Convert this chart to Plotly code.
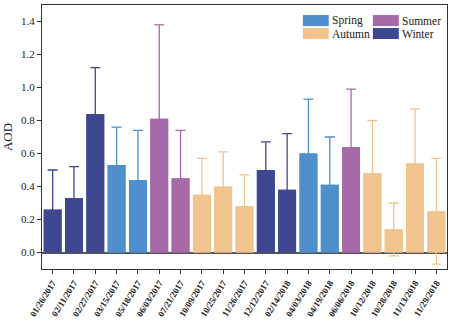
import plotly.graph_objects as go

dates = ["01/26/2017", "02/11/2017", "02/27/2017", "03/15/2017", "05/18/2017",
         "06/03/2017", "07/21/2017", "10/09/2017", "10/25/2017", "11/26/2017",
         "12/12/2017", "02/14/2018", "04/03/2018", "04/19/2018", "06/06/2018",
         "10/12/2018", "10/28/2018", "11/13/2018", "11/29/2018"]
seasons = ["Winter", "Winter", "Winter", "Spring", "Spring",
           "Summer", "Summer", "Autumn", "Autumn", "Autumn",
           "Winter", "Winter", "Spring", "Spring", "Summer",
           "Autumn", "Autumn", "Autumn", "Autumn"]
aod = [0.26, 0.33, 0.84, 0.53, 0.44, 0.81, 0.45, 0.35, 0.40, 0.28,
       0.50, 0.38, 0.60, 0.41, 0.64, 0.48, 0.14, 0.54, 0.25]
aod_sd = [0.24, 0.19, 0.28, 0.23, 0.30, 0.57, 0.29, 0.22, 0.21, 0.19,
          0.17, 0.34, 0.33, 0.29, 0.35, 0.32, 0.16, 0.33, 0.32]

season_order = ["Spring", "Summer", "Autumn", "Winter"]
season_colors = {
    "Spring": "#4F8FCC",
    "Summer": "#A66AA8",
    "Autumn": "#F1C38E",
    "Winter": "#3E4891",
}
# legend grid: (column, row)
legend_cells = {"Spring": (0, 0), "Summer": (1, 0), "Autumn": (0, 1), "Winter": (1, 1)}

serif = "Liberation Serif"
fig = go.Figure()

for s in season_order:
    idx = [i for i, v in enumerate(seasons) if v == s]
    xs = [dates[i] for i in idx]
    ys = [aod[i] for i in idx]
    es = [aod_sd[i] for i in idx]
    # bars carrying symmetric error bars
    fig.add_trace(go.Bar(
        x=xs, y=ys, width=0.84, name=s, showlegend=False,
        marker=dict(color=season_colors[s], line=dict(width=0)),
        error_y=dict(type="data", array=es, symmetric=True,
                     color=season_colors[s], thickness=1.3, width=5),
        hoverinfo="skip",
    ))

for s in season_order:
    idx = [i for i, v in enumerate(seasons) if v == s]
    xs = [dates[i] for i in idx]
    ys = [aod[i] for i in idx]
    # solid bars on top so only the part of each error bar outside the bar shows
    fig.add_trace(go.Bar(
        x=xs, y=ys, width=0.84, name=s, showlegend=False,
        marker=dict(color=season_colors[s], line=dict(width=0)),
    ))

# two-column season key in the upper right corner
key_x0, key_dx = 0.644, 0.173
key_y0, key_dy = 0.962, 0.049
sw_w, sw_h = 0.064, 0.042
for s in season_order:
    col, row = legend_cells[s]
    x0 = key_x0 + col * key_dx
    y1 = key_y0 - row * key_dy
    fig.add_shape(type="rect", xref="paper", yref="paper",
                  x0=x0, x1=x0 + sw_w, y0=y1 - sw_h, y1=y1,
                  fillcolor=season_colors[s], line=dict(width=0))
    fig.add_annotation(xref="paper", yref="paper", x=x0 + sw_w + 0.004,
                       y=y1 - sw_h / 2, text=s, showarrow=False,
                       xanchor="left", yanchor="middle",
                       font=dict(family=serif, size=11.5, color="#222"))

fig.update_layout(
    width=474, height=323,
    margin=dict(l=42, r=27, t=5, b=54),
    paper_bgcolor="white", plot_bgcolor="white",
    barmode="overlay",
    showlegend=False,
    font=dict(family=serif, color="#222"),
    xaxis=dict(
        type="category", categoryorder="array", categoryarray=dates,
        range=[-0.5, len(dates) - 0.5], automargin=False,
        tickangle=-58, tickfont=dict(family=serif, size=9, weight="bold", color="#222"),
        ticks="outside", ticklen=4, tickwidth=1.2, tickcolor="#333",
        showline=True, linecolor="#333", linewidth=1.3, mirror=True,
        showgrid=False,
    ),
    yaxis=dict(
        range=[-0.1, 1.5], dtick=0.2, tick0=0, tickformat=".1f",
        tickfont=dict(family=serif, size=11, color="#222"),
        ticks="outside", ticklen=4, tickwidth=1.2, tickcolor="#333",
        showline=True, linecolor="#333", linewidth=1.3, mirror=True,
        showgrid=False, automargin=False,
        zeroline=True, zerolinecolor="#555", zerolinewidth=1.6,
        title=dict(text="AOD", font=dict(family=serif, size=13, color="#222"),
                   standoff=6),
    ),
)

fig.write_html("out.html")
